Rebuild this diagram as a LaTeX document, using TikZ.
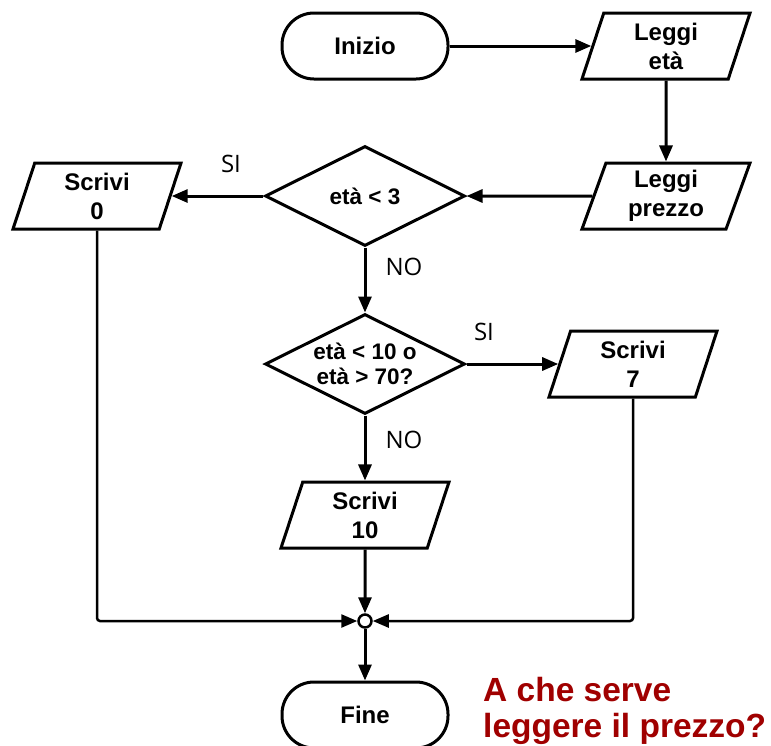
\documentclass[tikz,border=0pt]{standalone}
\usepackage{fontspec}
\setmainfont{Liberation Sans}
\newfontfamily\labelfont{Open Sans}
\usetikzlibrary{shapes.geometric,arrows.meta}
\definecolor{questred}{RGB}{160,0,0}
\begin{document}
\begin{tikzpicture}[x=1pt,y=-1pt,
  every node/.style={font=\fontsize{24}{29}\selectfont\bfseries, align=center},
  terminal/.style={draw, line width=3pt, rounded corners=32pt, minimum width=166pt,
    minimum height=66pt, inner sep=0pt},
  io/.style={draw, line width=3pt, trapezium, trapezium left angle=65,
    trapezium right angle=115, trapezium stretches body, minimum width=168pt,
    minimum height=66pt, inner sep=0pt},
  test/.style={draw, line width=3pt, diamond, aspect=2, minimum width=200pt,
    minimum height=100pt, inner sep=0pt, font=\fontsize{22.5}{25}\selectfont\bfseries},
  junction/.style={circle, draw, fill=white, line width=2.5pt, minimum size=13pt, inner sep=0pt},
  answer/.style={font=\labelfont\fontsize{24}{28}\selectfont},
  flow/.style={line width=3pt, -{Triangle[length=16pt,width=13pt]}},
  merge/.style={flow, line width=2.5pt, rounded corners=3pt},
]
\useasboundingbox (0,0) rectangle (771,745);

% blocks
\node[terminal] (start) at (365,46) {Inizio};
\node[io] (readage) at (666,46) {Leggi\\età};
\node[io] (readprice) at (666,196) {Leggi\\prezzo};
\node[test] (under3) at (365,196) {età < 3};
\node[io] (out0) at (97,196) {Scrivi\\0};
\node[test] (discount) at (365,364) {età < 10 o\\età > 70?};
\node[io] (out7) at (633,364) {Scrivi\\7};
\node[io] (out10) at (365,515) {Scrivi\\10};
\node[junction] (join) at (365,621) {};
\node[terminal] (stop) at (365,715) {Fine};

% branch labels
\node[answer] (yes1) at (231,164) {SI};
\node[answer] (no1) at (404,267) {NO};
\node[answer] (yes2) at (484,332) {SI};
\node[answer] (no2) at (404,440) {NO};

% connectors
\draw[flow] (start) -- (readage);
\draw[flow] (readage) -- (readprice);
\draw[flow] (readprice) -- (under3);
\draw[flow] (under3) -- (out0);
\draw[flow] (under3) -- (discount);
\draw[flow] (discount) -- (out7);
\draw[flow] (discount) -- (out10);
\draw[flow] (out10) -- (join);
\draw[merge] (out0.south) |- (join);
\draw[merge] (out7.south) |- (join);
\draw[flow] (join) -- (stop);

% question
\node[font=\fontsize{33.5}{36}\selectfont\bfseries, text=questred, align=left,
  anchor=north west, inner sep=0pt] (question) at (483,677) {A che serve\\leggere il prezzo?};
\end{tikzpicture}
\end{document}
